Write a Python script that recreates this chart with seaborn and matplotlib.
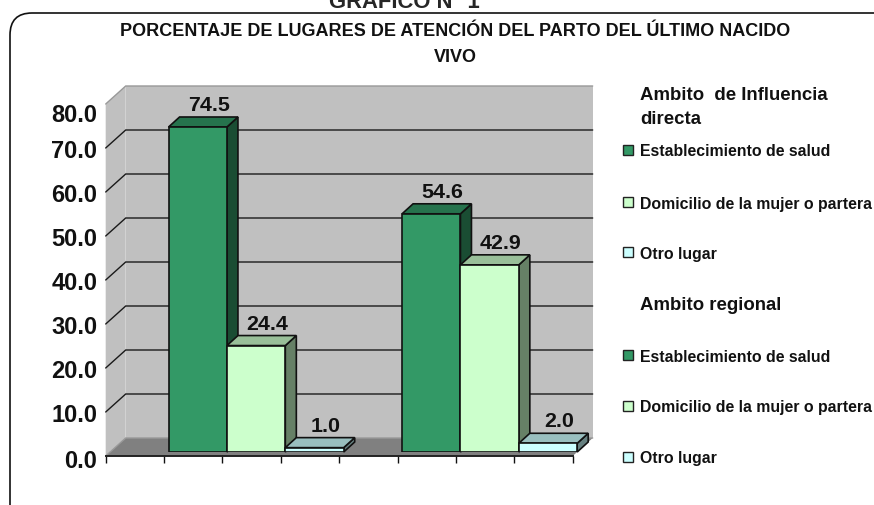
import pandas as pd
import seaborn as sns
import matplotlib.pyplot as plt
from matplotlib.patches import Polygon, Rectangle, FancyBboxPatch
from matplotlib.colors import to_rgb
from matplotlib.transforms import Affine2D

sns.set_style("white")
plt.rcParams['font.family'] = ['Liberation Sans', 'DejaVu Sans']

# datos
ambitos = ["Ambito de Influencia directa", "Ambito regional"]
lugares = ["Establecimiento de salud", "Domicilio de la mujer o partera", "Otro lugar"]
establecimiento = [74.5, 54.6]
domicilio = [24.4, 42.9]
otro = [1.0, 2.0]
colores = ["#339966", "#CCFFCC", "#CCFFFF"]
y_ticks = [0, 10, 20, 30, 40, 50, 60, 70, 80]

filas = []
for i, amb in enumerate(ambitos):
    filas.append((amb, " ", float("nan")))  # hueco antes de cada grupo
    filas.append((amb, lugares[0], establecimiento[i]))
    filas.append((amb, lugares[1], domicilio[i]))
    filas.append((amb, lugares[2], otro[i]))
df = pd.DataFrame(filas, columns=["ambito", "lugar", "valor"])

W, H = 874, 506
fig = plt.figure(figsize=(W / 100, H / 100), dpi=100, facecolor="white")


def rect(x0, y_bottom, w, h):
    return [x0 / W, (H - y_bottom) / H, w / W, h / H]


# marco redondeado
bg = fig.add_axes([0, 0, 1, 1])
bg.set_xlim(0, W)
bg.set_ylim(H, 0)
bg.axis("off")
bg.add_patch(FancyBboxPatch((32, 36), 860, 500, boxstyle="round,pad=22,rounding_size=22",
                            fc="white", ec="#111111", lw=1.2, clip_on=True))

fig.text(404 / W, 1 - 8 / H, "GRÁFICO N° 1", ha="center", va="baseline", fontsize=15.8, fontweight="bold")
fig.text(455 / W, 1 - 31 / H, "PORCENTAJE DE LUGARES DE ATENCIÓN DEL PARTO DEL ÚLTIMO NACIDO",
         ha="center", va="center", fontsize=13, fontweight="bold", color="#111111")
fig.text(455 / W, 1 - 58 / H, "VIVO", ha="center", va="center", fontsize=13, fontweight="bold", color="#111111")

# plano frontal: paredes, piso y rejilla
ax = fig.add_axes(rect(105.7, 457, 467, 352))
ax.patch.set_alpha(0)
ax.set_xlim(-0.5, 1.5)
ax.set_ylim(0, 80)
px_x = 2 / 467
px_y = 80 / 352
dx, dy = 20 * px_x, 18 * px_y
izq, der = -0.5, 1.5

ax.add_patch(Polygon([(izq + dx, dy), (der + dx, dy), (der + dx, 80 + dy), (izq + dx, 80 + dy)],
                     fc="#C0C0C0", ec="none", clip_on=False, zorder=0))
ax.add_patch(Polygon([(izq, 0), (izq + dx, dy), (izq + dx, 80 + dy), (izq, 80)],
                     fc="#C0C0C0", ec="none", clip_on=False, zorder=0))
ax.add_patch(Polygon([(izq, 0), (der, 0), (der + dx, dy), (izq + dx, dy)],
                     fc="#808080", ec="none", clip_on=False, zorder=0.5))
for v in y_ticks:
    c = "#1a1a1a" if 0 < v < 80 else "#999999"
    ax.plot([izq, izq + dx, der + dx], [v, v + dy, v + dy], color=c, lw=1,
            clip_on=False, zorder=1, solid_joinstyle="miter")

ax.set_yticks(y_ticks)
ax.set_yticklabels([f"{v:.1f}" for v in y_ticks], fontsize=17, fontweight="bold", color="#111111")
ax.set_xticks([izq + k * 0.25 for k in range(9)])
ax.set_xticklabels([])
ax.set_xlabel("")
ax.set_ylabel("")
ax.tick_params(axis="y", length=0, pad=6)
ax.tick_params(axis="x", length=5, width=1, color="#111111", bottom=True)
sns.despine(ax=ax, left=True, top=True, right=True)
ax.spines["bottom"].set_color("#222222")
ax.spines["bottom"].set_linewidth(1.4)
for lab in ax.get_yticklabels():
    if lab.get_text() == "80.0":
        lab.set_transform(lab.get_transform() + Affine2D().translate(0, -8))
    if lab.get_text() == "0.0":
        lab.set_transform(lab.get_transform() + Affine2D().translate(0, -2))

# barras: plano desplazado dentro de la profundidad del piso
ax_bar = fig.add_axes(rect(110.2, 453, 467, 349))
ax_bar.patch.set_alpha(0)
paleta = {" ": "white", lugares[0]: colores[0], lugares[1]: colores[1], lugares[2]: colores[2]}
sns.barplot(data=df, x="ambito", y="valor", hue="lugar", order=ambitos,
            hue_order=[" "] + lugares, palette=paleta, width=1, gap=0, saturation=1,
            edgecolor="#111111", linewidth=1.2, legend=False, ax=ax_bar, zorder=3)
ax_bar.set_xlim(-0.5, 1.5)
ax_bar.set_ylim(0, 80)
ax_bar.axis("off")

bar_dx, bar_dy = 11 * px_x, 10 * 80 / 349
barras = [p for p in ax_bar.patches if p.get_height() > 0]
barras.sort(key=lambda p: p.get_x())
for p in barras:
    x0, w, h = p.get_x(), p.get_width(), p.get_height()
    r, g, b = to_rgb(p.get_facecolor()[:3])
    ax_bar.add_patch(Polygon([(x0 + w, 0), (x0 + w + bar_dx, bar_dy), (x0 + w + bar_dx, h + bar_dy), (x0 + w, h)],
                             fc=(r * 0.5, g * 0.5, b * 0.5), ec="#111111", lw=1.2, clip_on=False, zorder=2))
    ax_bar.add_patch(Polygon([(x0, h), (x0 + w, h), (x0 + w + bar_dx, h + bar_dy), (x0 + bar_dx, h + bar_dy)],
                             fc=(r * 0.75, g * 0.75, b * 0.75), ec="#111111", lw=1.2, clip_on=False, zorder=2))
    ax_bar.text(x0 + w / 2 + bar_dx, h + bar_dy + 0.7, f"{h:.1f}", ha="center", va="bottom",
                fontsize=15.4, fontweight="bold", color="#111111", zorder=5)

# leyenda
y_leyenda = [152, 204, 254, 357, 408, 459]
fig.text(640 / W, 1 - 96 / H, "Ambito  de Influencia", ha="left", va="center", fontsize=13.4, fontweight="bold", color="#111111")
fig.text(640 / W, 1 - 120 / H, "directa", ha="left", va="center", fontsize=13.4, fontweight="bold", color="#111111")
fig.text(640 / W, 1 - 306 / H, "Ambito regional", ha="left", va="center", fontsize=13.4, fontweight="bold", color="#111111")
for k, y in enumerate(y_leyenda):
    i = k % 3
    bg.add_patch(Rectangle((623, y - 6), 10, 10, fc=colores[i], ec="#222222", lw=1))
    fig.text(640 / W, 1 - y / H, lugares[i], ha="left", va="center", fontsize=11.4, fontweight="bold", color="#111111")

plt.savefig("out.png", dpi=100)
